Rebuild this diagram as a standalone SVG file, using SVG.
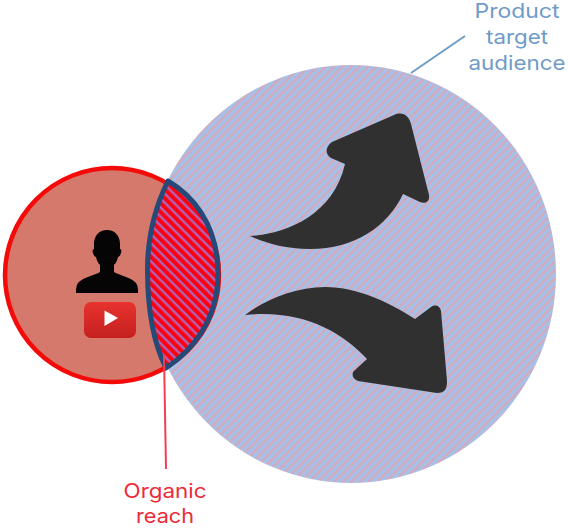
<svg xmlns="http://www.w3.org/2000/svg" width="568" height="528" viewBox="0 0 568 528">
<style>
.lbl{font-family:"Inter","Open Sans","Liberation Sans",sans-serif;font-size:20px;text-anchor:middle}
.blue{fill:#6f9bc8}.red{fill:#ee2a37}
.arrow{fill:#303030}
</style>
<defs>
<pattern id="aud" width="6" height="6" patternUnits="userSpaceOnUse" patternTransform="rotate(-45)">
<rect width="6" height="6" fill="#a4c1e8"/><rect width="6" height="2.600" fill="#d2aac0"/>
</pattern>
<pattern id="org" width="6.400" height="6.400" patternUnits="userSpaceOnUse" patternTransform="rotate(45)">
<rect width="6.400" height="6.400" fill="#ff0010"/><rect width="6.400" height="2.400" fill="#b063b4"/>
</pattern>
<linearGradient id="yt" x1="0" y1="0" x2="0" y2="1"><stop offset="0" stop-color="#e8332e"/><stop offset="1" stop-color="#c4201f"/></linearGradient>
</defs>
<g id="audience"><ellipse cx="351" cy="274" rx="205" ry="209" fill="url(#aud)"/></g>
<g id="channel"><circle cx="112" cy="275" r="107" fill="#d4796b" stroke="#f50a0a" stroke-width="4.500"/>
<path d="M107 230c-8 0-13 6-13 14v5c-1 0-2 1-1 4 1 3 2 4 3 4 1 4 2 6 4 8v7c-5 3-18 6-22 11-2 3-2 6-2 10h62c0-4 0-7-2-10-4-5-17-8-22-11v-7c2-2 3-4 4-8 1 0 2-1 3-4 1-3 0-4-1-4v-5c0-8-5-14-13-14z" fill="#050505"/>
<rect x="84" y="302" width="52" height="36" rx="7" fill="url(#yt)"/>
<path d="M104.500 310.500 118 318 104.500 326z" fill="#fff"/></g>
<g id="organic"><path d="M168 181C190 194 218 222 218 274C218 322 190 352 166 368C152 340 147.500 306 147.500 270C147.500 232 156 205 168 181Z" fill="url(#org)" stroke="#264a78" stroke-width="5" stroke-linejoin="round"/></g>
<g id="growth-up"><path class="arrow" d="M250 236C285 234 333 216 345 164L331 158C325 154 325 147 332 142L394 115C403 111 409 116 411 124L429 195C430 202 425 204 420 202L403 194C388 226 355 249 310 249C285 249 265 243 250 236Z"/></g>
<g id="growth-down"><path class="arrow" d="M245 315C265 300 295 287 325 287C358 287 390 303 415 319L431 307C436 304 440 306 441 311L447 381C447 389 445 393 437 393L358 381C352 379 351 373 355 370L367 359C340 330 300 309 245 315Z"/></g>
<g id="connectors"><path d="M411 73 465 36" fill="none" stroke="#6f9bc8" stroke-width="2"/><path d="M164 355 166 469" fill="none" stroke="#f04050" stroke-width="2"/></g>
<g id="labels">
<text class="lbl blue" x="517" y="18" textLength="85" lengthAdjust="spacingAndGlyphs">Product</text>
<text class="lbl blue" x="517" y="44" textLength="62" lengthAdjust="spacingAndGlyphs">target</text>
<text class="lbl blue" x="517" y="70" textLength="97" lengthAdjust="spacingAndGlyphs">audience</text>
<text class="lbl red" x="165" y="498" textLength="83" lengthAdjust="spacingAndGlyphs">Organic</text>
<text class="lbl red" x="165" y="523" textLength="58" lengthAdjust="spacingAndGlyphs">reach</text>
</g>
</svg>
